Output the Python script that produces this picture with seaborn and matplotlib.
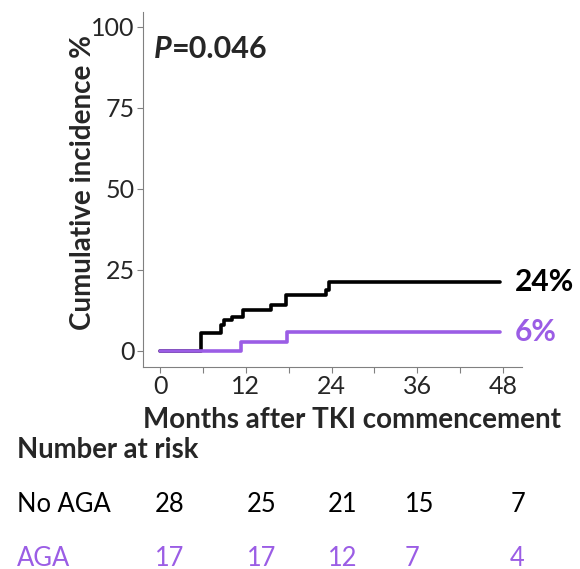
import numpy as np
import pandas as pd
import matplotlib
matplotlib.use("Agg")
import matplotlib.pyplot as plt
import seaborn as sns

# -------------------------------
# Values
no_aga_months = [0, 5.3, 5.8, 8.6, 9.0, 10.1, 11.6, 15.6, 17.6, 23.2, 23.7, 47.6]
no_aga_inc = [0, 0, 5.5, 8.0, 9.6, 10.6, 12.7, 14.2, 17.3, 18.8, 21.4, 21.4]

aga_months = [0, 11.4, 17.8, 47.6]
aga_inc = [0, 2.9, 6.0, 6.0]

risk_times = [0, 12, 24, 36, 48]
risk_no_aga = [28, 25, 21, 15, 7]
risk_aga = [17, 17, 12, 7, 4]

end_labels = ["24%", "6%"]
p_value = "0.046"

BLACK = "#000000"
PURPLE = "#9b5de5"

df = pd.concat([
    pd.DataFrame({"month": no_aga_months, "inc": no_aga_inc, "group": "No AGA"}),
    pd.DataFrame({"month": aga_months, "inc": aga_inc, "group": "AGA"}),
], ignore_index=True)

# -------------------------------
sns.set_style("white")
plt.rcParams['font.family'] = ['Lato', 'DejaVu Sans']

fig = plt.figure(figsize=(5.8, 5.69), dpi=100)
ax = fig.add_axes([0.2466, 0.355, 0.6534, 0.6239])

# No AGA first so AGA is drawn on top along the zero line
sns.lineplot(data=df, x="month", y="inc", hue="group", palette={"No AGA": BLACK, "AGA": PURPLE},
             hue_order=["No AGA", "AGA"], drawstyle="steps-post", sort=False, estimator=None,
             linewidth=2.6, legend=False, ax=ax)

ax.set_xlim(-2.38, 50.66)
ax.set_ylim(-4.94, 104.6)
ax.set_xticks(risk_times)
ax.set_xticks([6, 18, 30, 42], minor=True)
ax.set_yticks([0, 25, 50, 75, 100])
ax.tick_params(axis="both", which="both", direction="out", length=4, width=0.8,
               color="#808080", labelsize=18, pad=2, bottom=True, left=True)
ax.set_xlabel("")
ax.set_ylabel("")
for side in ["top", "right"]:
    ax.spines[side].set_visible(False)
for side in ["left", "bottom"]:
    ax.spines[side].set_color("#808080")
    ax.spines[side].set_linewidth(0.8)

# P value
t1 = ax.text(0.028, 0.935, "P", transform=ax.transAxes, fontsize=22, fontweight="bold",
             style="italic", va="top", ha="left")
ax.annotate("=" + p_value, xy=(1, 0), xycoords=t1, fontsize=22, fontweight="bold",
            va="bottom", ha="left")

# end labels
ax.text(49.6, no_aga_inc[-1], end_labels[0], fontsize=21.5, fontweight="bold",
        color=BLACK, va="center", ha="left", clip_on=False)
ax.text(49.6, aga_inc[-1], end_labels[1], fontsize=21.5, fontweight="bold",
        color=PURPLE, va="center", ha="left", clip_on=False)

# axis labels
fig.text(83 / 580, 1 - 182 / 569, "Cumulative incidence %", rotation=90, fontsize=20,
         fontweight="bold", ha="center", va="center")
fig.text(352 / 580, 1 - 420 / 569, "Months after TKI commencement", fontsize=20,
         fontweight="bold", ha="center", va="center")

# number at risk table
fig.text(17 / 580, 1 - 450 / 569, "Number at risk", fontsize=19.8, fontweight="bold",
         ha="left", va="center")
fig.text(17 / 580, 1 - 505 / 569, "No AGA", fontsize=18.4, ha="left", va="center", color=BLACK)
fig.text(17 / 580, 1 - 558 / 569, "AGA", fontsize=18.4, ha="left", va="center", color=PURPLE)

risk_x = [-0.7, 12.2, 23.5, 34.3, 49.0]
trans = matplotlib.transforms.blended_transform_factory(ax.transData, fig.transFigure)
for xp, n1, n2 in zip(risk_x, risk_no_aga, risk_aga):
    ax.text(xp, 1 - 505 / 569, str(n1), transform=trans, fontsize=18.4, ha="left",
            va="center", color=BLACK, clip_on=False)
    ax.text(xp, 1 - 558 / 569, str(n2), transform=trans, fontsize=18.4, ha="left",
            va="center", color=PURPLE, clip_on=False)

plt.savefig("out.png", dpi=100)
